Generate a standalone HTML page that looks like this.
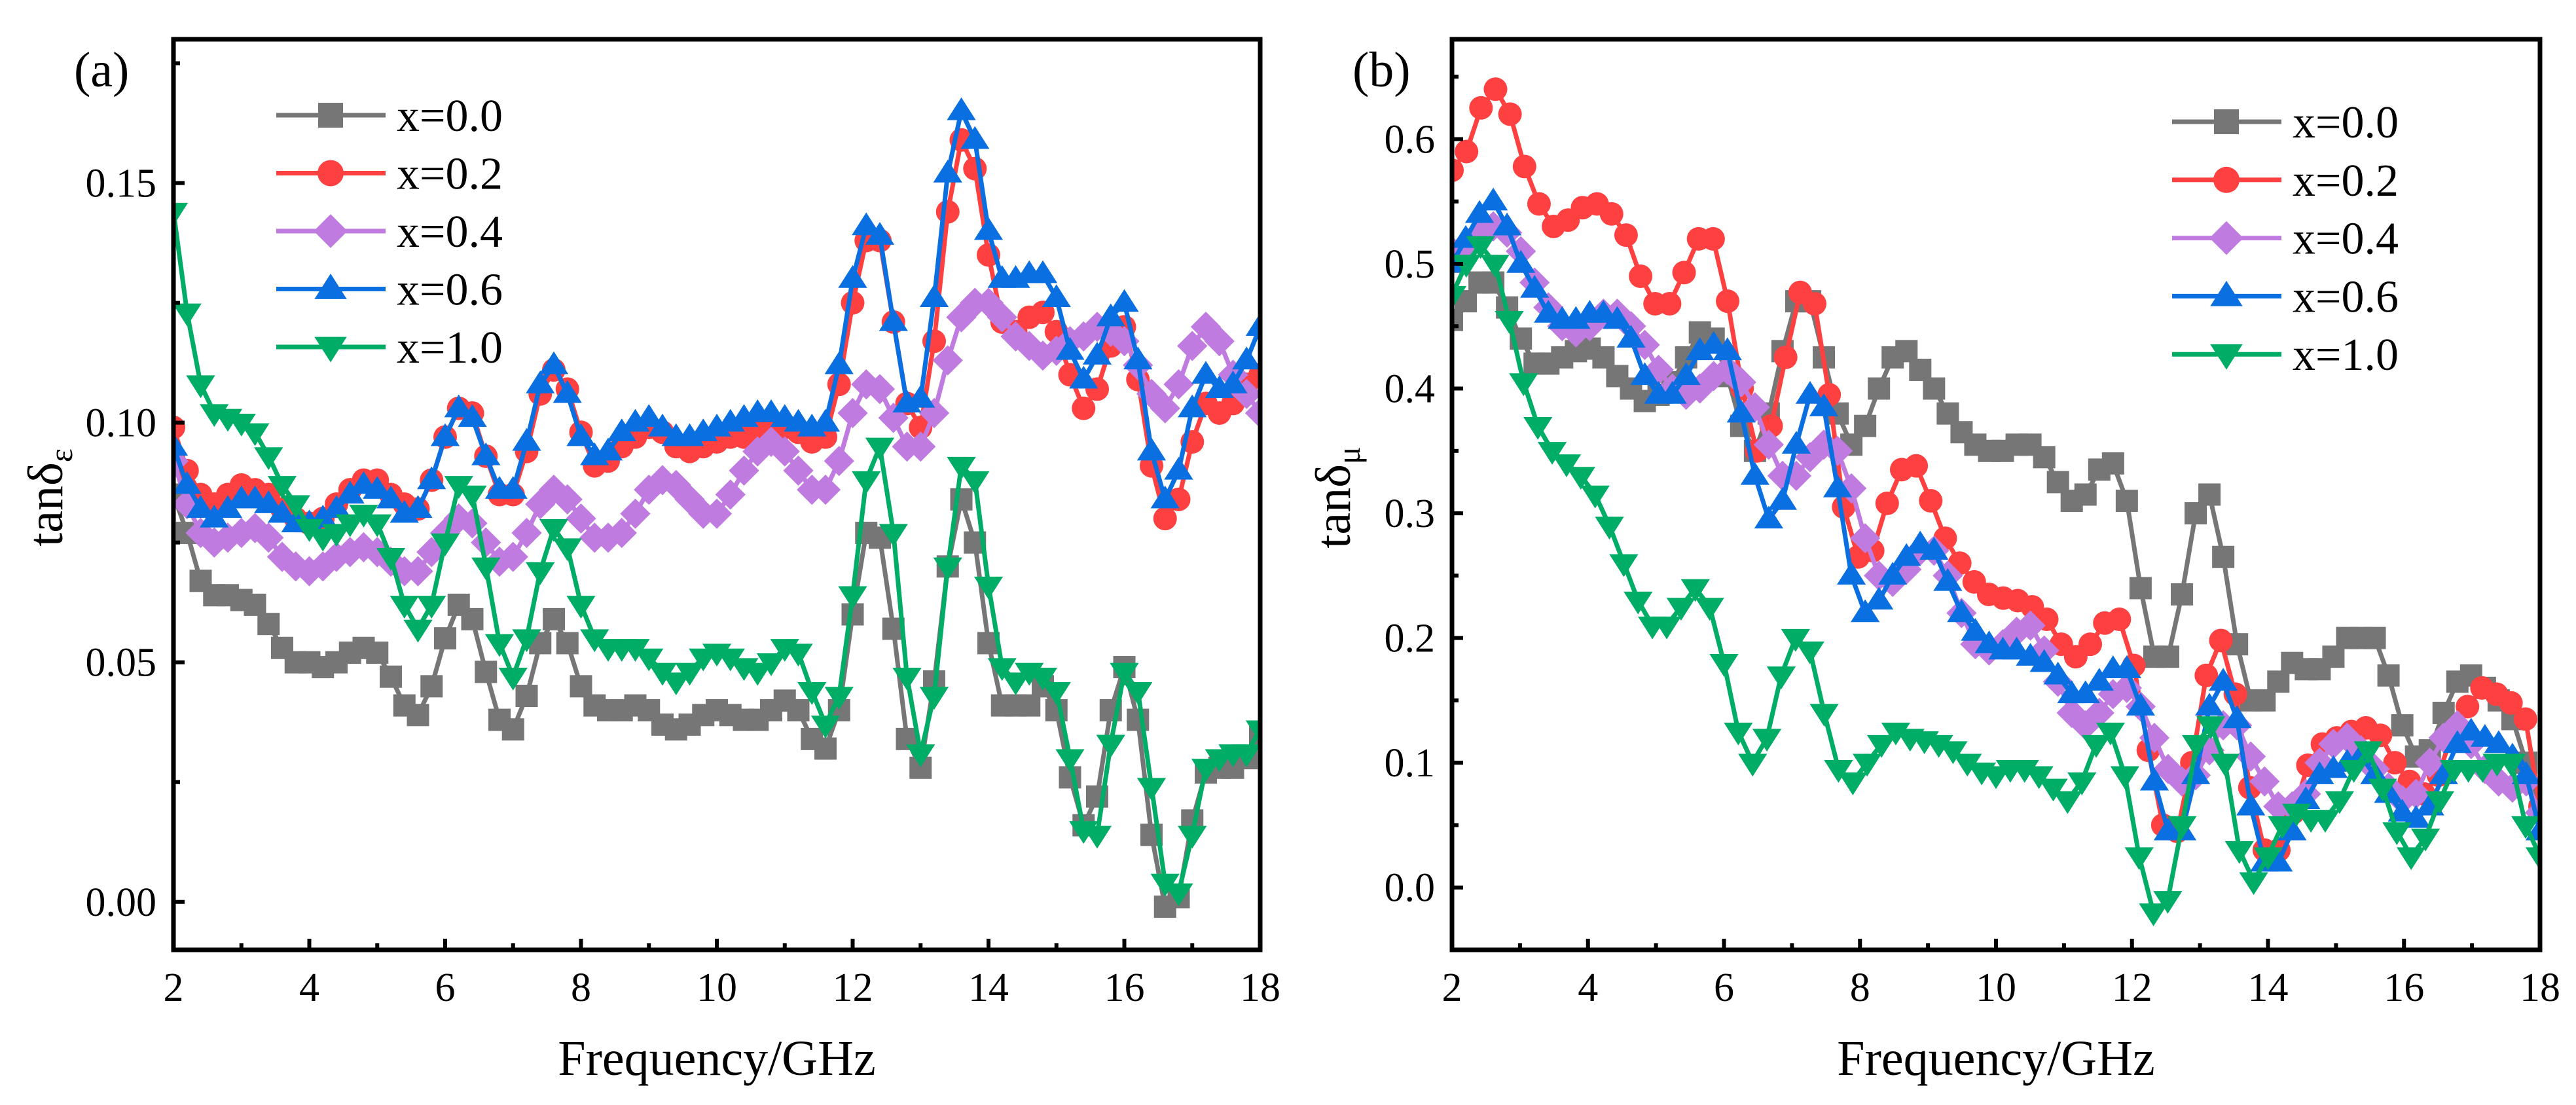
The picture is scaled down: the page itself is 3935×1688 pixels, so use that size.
<!DOCTYPE html>
<html><head><meta charset="utf-8">
<style>
html,body{margin:0;padding:0;background:#fff;}
svg{display:block;font-family:"Liberation Serif",serif;}
</style></head>
<body>
<svg id="fig" width="3935" height="1688" viewBox="0 0 3935 1688" xmlns="http://www.w3.org/2000/svg">
<rect width="3935" height="1688" fill="#fff"/>
</svg>
<script>
const seriesNames = ["x=0.0","x=0.2","x=0.4","x=0.6","x=1.0"];
const colors = ["#767676","#ff4040","#c07be0","#0a6fe0","#00ad66"];
const markers = ["square","circle","diamond","up","down"];
const xTicks = [2,4,6,8,10,12,14,16,18];
const aYTicks = [0.00,0.05,0.10,0.15];
const aYLabels = ["0.00","0.05","0.10","0.15"];
const bYTicks = [0.0,0.1,0.2,0.3,0.4,0.5,0.6];
const bYLabels = ["0.0","0.1","0.2","0.3","0.4","0.5","0.6"];

const a0 = [.085,.077,.067,.064,.064,.063,.062,.058,.053,.050,.050,.049,.050,.052,.053,.052,.047,.041,.039,.045,.055,.062,.059,.048,.038,.036,.043,.054,.059,.054,.045,.041,.040,.040,.041,.040,.037,.036,.037,.039,.040,.039,.038,.038,.040,.042,.040,.034,.032,.040,.060,.077,.076,.057,.034,.028,.046,.070,.084,.075,.054,.041,.041,.041,.045,.040,.026,.016,.022,.040,.049,.038,.014,-.001,.001,.017,.027,.028,.028,.030,.035];
const a2 = [.099,.090,.085,.083,.085,.087,.086,.085,.082,.080,.079,.080,.083,.086,.088,.088,.085,.083,.082,.088,.097,.103,.102,.093,.085,.085,.094,.106,.111,.107,.098,.091,.092,.095,.097,.099,.098,.095,.094,.095,.096,.097,.097,.098,.099,.099,.098,.096,.097,.108,.125,.138,.138,.121,.104,.099,.117,.144,.159,.153,.135,.121,.119,.122,.123,.119,.110,.103,.107,.116,.120,.109,.091,.080,.084,.096,.104,.102,.104,.108,.110];
const a4 = [.092,.083,.077,.075,.076,.077,.078,.076,.072,.070,.069,.070,.072,.073,.074,.073,.071,.069,.069,.073,.077,.080,.079,.075,.071,.072,.077,.083,.086,.084,.080,.076,.076,.077,.081,.086,.088,.087,.084,.081,.081,.085,.090,.094,.096,.094,.090,.086,.086,.092,.102,.108,.107,.101,.095,.095,.102,.113,.122,.125,.125,.122,.118,.116,.114,.115,.117,.118,.120,.119,.117,.112,.106,.103,.108,.116,.120,.117,.110,.106,.102];
const a6 = [.095,.087,.082,.080,.082,.084,.084,.083,.081,.079,.079,.080,.082,.085,.087,.086,.084,.081,.082,.088,.097,.103,.101,.093,.086,.086,.096,.108,.112,.106,.097,.093,.094,.098,.100,.101,.099,.097,.097,.098,.099,.100,.101,.102,.102,.101,.100,.099,.100,.112,.130,.141,.139,.121,.104,.105,.126,.152,.165,.159,.140,.130,.130,.131,.131,.126,.115,.109,.114,.122,.125,.113,.094,.084,.090,.103,.110,.107,.108,.113,.120];
const a10 = [.144,.123,.108,.102,.101,.100,.098,.093,.087,.083,.078,.076,.077,.079,.081,.079,.072,.062,.057,.062,.075,.087,.085,.070,.054,.047,.055,.069,.078,.074,.062,.055,.053,.053,.053,.051,.048,.046,.048,.051,.052,.051,.049,.048,.050,.053,.052,.044,.037,.043,.064,.088,.095,.077,.047,.031,.043,.070,.091,.088,.066,.049,.046,.048,.047,.044,.030,.015,.014,.033,.048,.044,.024,.004,.002,.014,.028,.030,.031,.031,.036];

const b0 = [.455,.47,.485,.485,.465,.44,.42,.42,.425,.43,.432,.425,.41,.40,.39,.395,.405,.425,.445,.44,.41,.37,.35,.38,.43,.47,.47,.425,.38,.355,.37,.40,.425,.43,.415,.40,.38,.365,.355,.35,.35,.355,.355,.345,.325,.31,.315,.335,.34,.31,.24,.185,.185,.235,.30,.315,.265,.195,.15,.15,.165,.18,.175,.175,.185,.20,.20,.20,.17,.13,.105,.11,.14,.165,.17,.16,.15,.135,.10,.06];
const b2 = [.575,.59,.625,.64,.62,.578,.548,.53,.535,.545,.548,.54,.523,.49,.468,.468,.493,.52,.52,.47,.40,.35,.37,.425,.477,.468,.395,.305,.265,.27,.308,.335,.338,.31,.28,.26,.245,.235,.232,.23,.225,.215,.195,.185,.195,.212,.215,.178,.11,.05,.045,.10,.17,.198,.155,.08,.03,.03,.06,.098,.115,.12,.125,.128,.122,.10,.085,.075,.09,.125,.145,.16,.155,.148,.135,.065];
const b4 = [.51,.515,.525,.53,.525,.51,.485,.465,.45,.445,.45,.46,.46,.45,.435,.415,.40,.395,.40,.41,.415,.405,.385,.355,.33,.33,.345,.355,.35,.32,.28,.25,.245,.255,.27,.27,.25,.22,.195,.19,.195,.205,.21,.19,.165,.14,.13,.14,.155,.16,.145,.12,.095,.085,.09,.11,.13,.13,.105,.085,.065,.065,.075,.10,.115,.12,.11,.095,.08,.07,.075,.10,.12,.13,.115,.095,.085,.08,.085,.06];
const b6 = [.50,.52,.54,.55,.53,.50,.48,.46,.455,.455,.46,.46,.455,.44,.41,.395,.395,.41,.43,.435,.43,.38,.33,.295,.31,.355,.395,.385,.32,.25,.22,.23,.25,.265,.275,.27,.245,.22,.205,.195,.19,.19,.185,.18,.17,.155,.155,.165,.175,.175,.145,.085,.045,.045,.09,.145,.165,.135,.065,.02,.02,.045,.07,.09,.095,.10,.105,.09,.075,.06,.055,.065,.09,.115,.125,.12,.115,.105,.09,.045];
const b10 = [.475,.50,.515,.50,.455,.405,.37,.35,.34,.33,.315,.29,.26,.23,.21,.21,.225,.24,.225,.18,.125,.10,.12,.17,.20,.19,.14,.095,.085,.10,.115,.125,.12,.118,.115,.11,.10,.093,.09,.095,.095,.09,.08,.07,.085,.115,.125,.09,.025,-.02,-.01,.05,.115,.13,.10,.03,.005,.025,.05,.06,.055,.055,.07,.095,.11,.08,.045,.025,.04,.07,.095,.095,.095,.10,.10,.05,.025];

const NS="http://www.w3.org/2000/svg";
const svg=document.getElementById('fig');
function mk(tag,attrs,parent){const e=document.createElementNS(NS,tag);for(const k in attrs)e.setAttribute(k,attrs[k]);(parent||svg).appendChild(e);return e;}

function marker(g,type,cx,cy,s,color){
  let e;
  if(type==="square") e=mk('rect',{x:cx-s/2,y:cy-s/2,width:s,height:s,fill:color},g);
  else if(type==="circle") e=mk('circle',{cx:cx,cy:cy,r:s/2+1,fill:color},g);
  else if(type==="diamond"){const r=s*0.68;e=mk('polygon',{points:`${cx},${cy-r} ${cx+r},${cy} ${cx},${cy+r} ${cx-r},${cy}`,fill:color},g);}
  else if(type==="up"){const r=s*0.62;e=mk('polygon',{points:`${cx},${cy-r} ${cx+r*1.05},${cy+r*0.65} ${cx-r*1.05},${cy+r*0.65}`,fill:color},g);}
  else {const r=s*0.62;e=mk('polygon',{points:`${cx},${cy+r} ${cx+r*1.05},${cy-r*0.65} ${cx-r*1.05},${cy-r*0.65}`,fill:color},g);}
  return e;
}

function panel(cfg){
  const {L,R,T,B,ymin,ymax,yTicks,yLabels,yMinorStep,data,name,letter,ylab,sub,legX,legY,legStep,titleX}=cfg;
  const g=mk('g',{});
  
  
  const xs=v=>L+(v-2)/16*(R-L);
  const ys=v=>B-(v-ymin)/(ymax-ymin)*(B-T);
  const cid='clip-'+name;
  const cp=mk('clipPath',{id:cid},g);mk('rect',{x:L,y:T,width:R-L,height:B-T},cp);
  const plot=mk('g',{'clip-path':`url(#${cid})`},g);
  data.forEach((vals,si)=>{
    const sg=mk('g',{},plot);
    
    
    const n=vals.length;
    const pts=vals.map((v,i)=>[xs(2+16*i/(n-1)),ys(v)]);
    const line=mk('polyline',{points:pts.map(p=>p.join(',')).join(' '),fill:'none',stroke:colors[si],'stroke-width':7,'stroke-linejoin':'round'},sg);
    
    
    pts.forEach(p=>{const m=marker(sg,markers[si],p[0],p[1],34,colors[si]);
      
      });
  });
  const fr=mk('rect',{x:L,y:T,width:R-L,height:B-T,fill:'none',stroke:'#000','stroke-width':7},g);
  
  
  for(let v=2;v<=18;v++){const x=xs(v);const len=(v%2===0)?17:10;
    const t=mk('line',{x1:x,y1:B,x2:x,y2:B-len,stroke:'#000','stroke-width':6},g);
    
    }
  xTicks.forEach(v=>{const t=mk('text',{x:xs(v),y:B+78,'font-size':62,'text-anchor':'middle',fill:'#000'},g);t.textContent=String(v);
    
    });
  for(let v=Math.ceil(ymin/yMinorStep)*yMinorStep; v<=ymax+1e-9; v+=yMinorStep){
    const isMaj=yTicks.some(t=>Math.abs(t-v)<1e-6);const y=ys(v);
    const t=mk('line',{x1:L,y1:y,x2:L+(isMaj?17:10),y2:y,stroke:'#000','stroke-width':6},g);
    
    }
  yTicks.forEach((v,i)=>{const t=mk('text',{x:L-26,y:ys(v)+21,'font-size':62,'text-anchor':'end',fill:'#000'},g);t.textContent=yLabels[i];
    
    });
  const xt=mk('text',{x:titleX,y:1642,'font-size':76,'text-anchor':'middle',fill:'#000'},g);xt.textContent='Frequency/GHz';
  
  
  const yt=mk('text',{transform:`translate(${cfg.ylx},760) rotate(-90)`,'font-size':76,'text-anchor':'middle',fill:'#000'},g);
  
  
  const t1=mk('tspan',{},yt);t1.textContent=ylab;
  const t2=mk('tspan',{dy:15,'font-size':50},yt);t2.textContent=sub;
  const lt=mk('text',{x:L-152,y:132,'font-size':76,fill:'#000'},g);lt.textContent=letter;
  
  
  const lg=mk('g',{},g);
  
  
  seriesNames.forEach((s,i)=>{
    const y=legY+i*legStep;
    const eg=mk('g',{},lg);
    
    
    mk('line',{x1:legX,y1:y,x2:legX+167,y2:y,stroke:colors[i],'stroke-width':7},eg);
    marker(eg,markers[i],legX+83,y,38,colors[i]);
    const tx=mk('text',{x:legX+184,y:y+24,'font-size':70,fill:'#000'},eg);tx.textContent=s;
  });
}

panel({L:265,R:1925,T:60,B:1451,ymin:-0.01,ymax:0.18,yTicks:aYTicks,yLabels:aYLabels,yMinorStep:0.025,
  data:[a0,a2,a4,a6,a10],name:'panel-a-tan-delta-e',letter:'(a)',ylab:'tanδ',sub:'ε',ylx:95,
  legX:422,legY:176,legStep:88.5,titleX:1095});
panel({L:2218,R:3880,T:60,B:1451,ymin:-0.05,ymax:0.68,yTicks:bYTicks,yLabels:bYLabels,yMinorStep:0.05,
  data:[b0,b2,b4,b6,b10],name:'panel-b-tan-delta-mu',letter:'(b)',ylab:'tanδ',sub:'μ',ylx:2062,
  legX:3318,legY:186,legStep:88.8,titleX:3049});
</script>
</body></html>
